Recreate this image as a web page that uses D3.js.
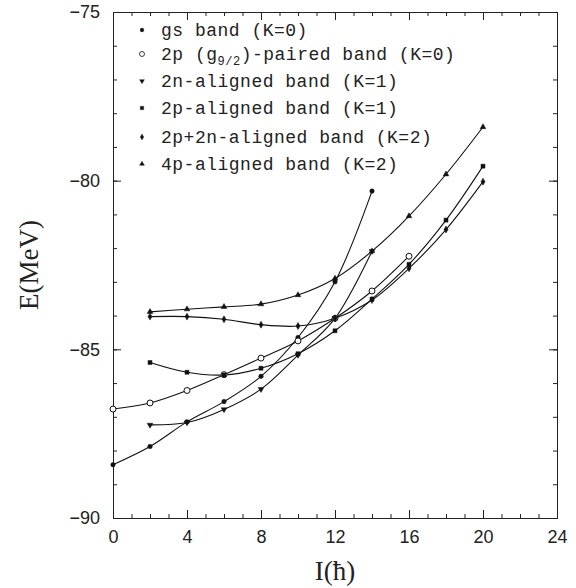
<!DOCTYPE html>
<html>
<head>
<meta charset="utf-8">
<script src="https://cdn.jsdelivr.net/npm/d3@7"></script>
<style>
  body { margin: 0; background: #fff; }
  svg { display: block; }
  .axis path, .axis line { stroke: #222; stroke-width: 1; }
  .axis text { font-family: "Liberation Sans", Arial, sans-serif; font-size: 18px; fill: #222; }
</style>
</head>
<body>
<svg id="chart" width="576" height="588"></svg>
<script>
// values (I in hbar, E in MeV)
var gsI = [0, 2, 4, 6, 8, 10, 12, 14];
var gsE = [-88.42, -87.88, -87.15, -86.55, -85.80, -84.65, -83.00, -80.31];

var pairedI = [0, 2, 4, 6, 8, 10, 12, 14, 16];
var pairedE = [-86.77, -86.59, -86.22, -85.75, -85.26, -84.75, -84.08, -83.27, -82.24];

var nAlignedI = [2, 4, 6, 8, 10, 12, 14];
var nAlignedE = [-87.24, -87.17, -86.78, -86.18, -85.17, -84.08, -82.09];

var pAlignedI = [2, 4, 6, 8, 10, 12, 14, 16, 18, 20];
var pAlignedE = [-85.39, -85.68, -85.76, -85.56, -85.13, -84.45, -83.51, -82.48, -81.17, -79.57];

var pnAlignedI = [2, 4, 6, 8, 10, 12, 14, 16, 18, 20];
var pnAlignedE = [-84.03, -84.03, -84.11, -84.27, -84.31, -84.08, -83.54, -82.60, -81.45, -80.03];

var p4AlignedI = [2, 4, 6, 8, 10, 12, 14, 16, 18, 20];
var p4AlignedE = [-83.89, -83.81, -83.74, -83.66, -83.39, -82.90, -82.09, -81.05, -79.81, -78.41];

var xMajor = [0, 4, 8, 12, 16, 20, 24];
var yMajor = [-75, -80, -85, -90];

var svg = d3.select("#chart");

// plot frame (window.top is taken, so prefix these)
var padL = 113, padR = 557, padT = 12, padB = 518;

var x = d3.scaleLinear().domain([0, 24]).range([padL, padR]);
var y = d3.scaleLinear().domain([-90, -75]).range([padB, padT]);

var minus = function(d) { return d < 0 ? "\u2212" + Math.abs(d) : "" + d; };

// 축 - ticks point inward on all four sides
svg.append("g").attr("class", "axis").attr("transform", "translate(" + padL + ",0)")
  .call(d3.axisLeft(y).tickValues(d3.range(-90, -74, 1)).tickSize(-4).tickSizeOuter(0).tickFormat(""));
svg.append("g").attr("class", "axis").attr("transform", "translate(" + padL + ",0)")
  .call(d3.axisLeft(y).tickValues(yMajor).tickSize(-8).tickSizeOuter(0).tickPadding(13).tickFormat(minus));

svg.append("g").attr("class", "axis").attr("transform", "translate(" + padR + ",0)")
  .call(d3.axisRight(y).tickValues(d3.range(-90, -74, 1)).tickSize(-4).tickSizeOuter(0).tickFormat(""));
svg.append("g").attr("class", "axis").attr("transform", "translate(" + padR + ",0)")
  .call(d3.axisRight(y).tickValues(yMajor).tickSize(-8).tickSizeOuter(0).tickFormat(""));

svg.append("g").attr("class", "axis").attr("transform", "translate(0," + padB + ")")
  .call(d3.axisBottom(x).tickValues(d3.range(0, 25, 1)).tickSize(-4).tickSizeOuter(0).tickFormat(""));
svg.append("g").attr("class", "axis").attr("transform", "translate(0," + padB + ")")
  .call(d3.axisBottom(x).tickValues(xMajor).tickSize(-8).tickSizeOuter(0).tickPadding(12).tickFormat(minus));

svg.append("g").attr("class", "axis").attr("transform", "translate(0," + padT + ")")
  .call(d3.axisTop(x).tickValues(d3.range(0, 25, 1)).tickSize(-4).tickSizeOuter(0).tickFormat(""));
svg.append("g").attr("class", "axis").attr("transform", "translate(0," + padT + ")")
  .call(d3.axisTop(x).tickValues(xMajor).tickSize(-8).tickSizeOuter(0).tickFormat(""));

// axis titles
svg.append("text")
  .attr("transform", "translate(38," + ((padT + padB) / 2) + ") rotate(-90)")
  .attr("text-anchor", "middle")
  .style("font-family", "'Liberation Serif', 'Times New Roman', serif")
  .style("font-size", "27px")
  .style("fill", "#222")
  .text("E(MeV)");

svg.append("text")
  .attr("x", (padL + padR) / 2)
  .attr("y", 580)
  .attr("text-anchor", "middle")
  .style("font-family", "'Liberation Serif', 'Times New Roman', serif")
  .style("font-size", "27px")
  .style("fill", "#222")
  .text("I(\u0127)");

// 밴드 정의
var bands = [
  { I: gsI, E: gsE, sym: d3.symbolCircle, size: 16, fill: "#111", rot: 0 },
  { I: pairedI, E: pairedE, sym: d3.symbolCircle, size: 28, fill: "#fff", rot: 0 },
  { I: nAlignedI, E: nAlignedE, sym: d3.symbolTriangle, size: 14, fill: "#111", rot: 180 },
  { I: pAlignedI, E: pAlignedE, sym: d3.symbolSquare, size: 16, fill: "#111", rot: 0 },
  { I: pnAlignedI, E: pnAlignedE, sym: d3.symbolDiamond, size: 14, fill: "#111", rot: 0 },
  { I: p4AlignedI, E: p4AlignedE, sym: d3.symbolTriangle, size: 14, fill: "#111", rot: 0 }
];

var line = d3.line()
  .x(function(d) { return x(d[0]); })
  .y(function(d) { return y(d[1]); })
  .curve(d3.curveCatmullRom.alpha(0.5));

bands.forEach(function(b) {
  var pts = b.I.map(function(v, i) { return [v, b.E[i]]; });
  svg.append("path")
    .datum(pts)
    .attr("d", line)
    .attr("fill", "none")
    .attr("stroke", "#111")
    .attr("stroke-width", 1.1);
});

bands.forEach(function(b) {
  var pts = b.I.map(function(v, i) { return [v, b.E[i]]; });
  svg.append("g").selectAll("path")
    .data(pts)
    .enter()
    .append("path")
    .attr("d", d3.symbol().type(b.sym).size(b.size))
    .attr("transform", function(d) { return "translate(" + x(d[0]) + "," + y(d[1]) + ") rotate(" + b.rot + ")"; })
    .attr("fill", b.fill)
    .attr("stroke", "#111")
    .attr("stroke-width", b.fill === "#fff" ? 1 : 0.5);
});

// legend
var legendY = [30, 54, 81, 108, 137, 164];
var leg = svg.append("g")
  .style("font-family", "'Liberation Mono', 'DejaVu Sans Mono', monospace")
  .style("font-size", "18px")
  .style("letter-spacing", "0.5px")
  .style("fill", "#222");

bands.forEach(function(b, i) {
  leg.append("path")
    .attr("d", d3.symbol().type(b.sym).size(b.size * 0.7))
    .attr("transform", "translate(142," + legendY[i] + ") rotate(" + b.rot + ")")
    .attr("fill", b.fill)
    .attr("stroke", "#111")
    .attr("stroke-width", b.fill === "#fff" ? 0.8 : 0.4);
});

var labels = ["gs band (K=0)", null, "2n-aligned band (K=1)", "2p-aligned band (K=1)",
  "2p+2n-aligned band (K=2)", "4p-aligned band (K=2)"];
labels.forEach(function(t, i) {
  if (t === null) return;
  leg.append("text").attr("x", 161).attr("y", legendY[i] + 6).text(t);
});

var t2 = leg.append("text").attr("x", 161).attr("y", legendY[1] + 6);
t2.append("tspan").text("2p (g");
t2.append("tspan").attr("dy", 5).style("font-size", "12px").text("9/2");
t2.append("tspan").attr("dy", -5).text(")-paired band (K=0)");
</script>
</body>
</html>
